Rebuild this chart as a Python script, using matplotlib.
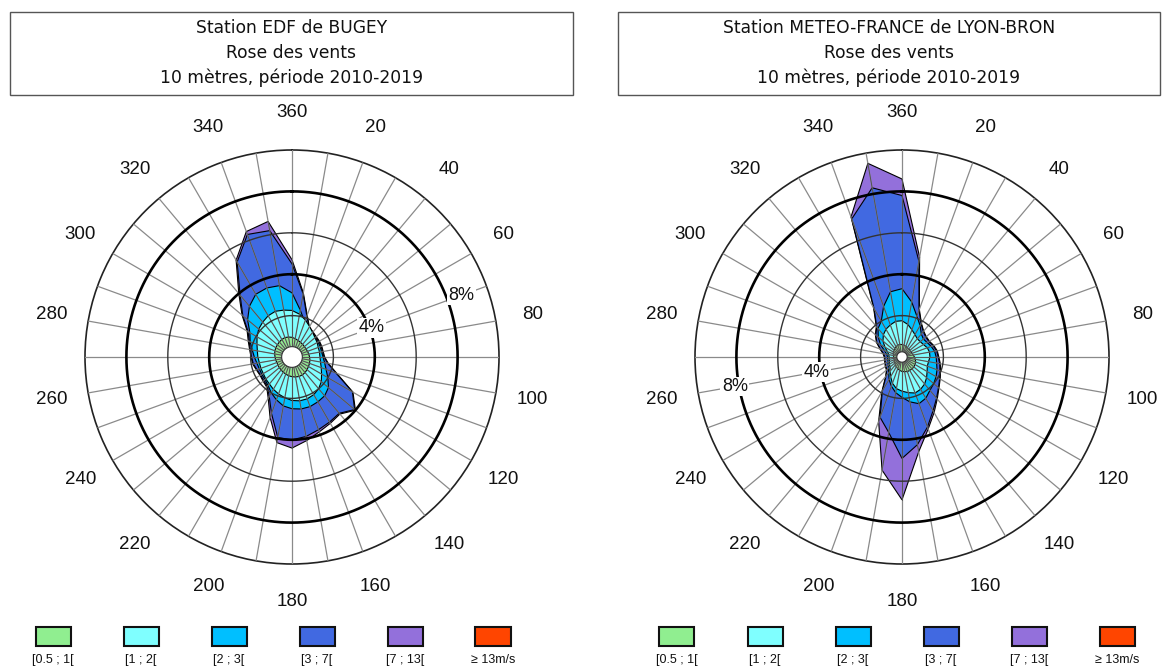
import numpy as np
import matplotlib
matplotlib.use("Agg")
import matplotlib.pyplot as plt
from matplotlib.patches import Rectangle

plt.rcParams['font.family'] = ['Liberation Sans', 'DejaVu Sans']

# directions (degrees from north, clockwise), one sector every 10 degrees
directions = np.arange(0, 360, 10)

# classes de vitesse
classes = ["[0.5 ; 1[", "[1 ; 2[", "[2 ; 3[", "[3 ; 7[", "[7 ; 13[", "\u2265 13m/s"]
couleurs = ["#90EE90", "#7FFFFF", "#00BFFF", "#4169E1", "#9370DB", "#FF4500"]

# --- Station EDF de BUGEY : frequences cumulees (%) sous chaque borne de vitesse
bugey_calme = 0.5
bugey_lt1 = [0.95, 0.9, 0.85, 0.82, 0.8, 0.78, 0.78, 0.8, 0.82, 0.85, 0.88, 0.9,
             0.92, 0.95, 0.98, 1.0, 1.0, 0.98, 0.95, 0.92, 0.88, 0.85, 0.82, 0.8,
             0.78, 0.78, 0.8, 0.82, 0.85, 0.88, 0.9, 0.92, 0.95, 0.98, 1.0, 0.98]
bugey_lt2 = [2.25, 2.1, 1.9, 1.7, 1.55, 1.45, 1.4, 1.35, 1.35, 1.35, 1.4, 1.5,
             1.65, 1.85, 2.0, 2.1, 2.15, 2.15, 2.1, 2.0, 1.9, 1.8, 1.7, 1.65,
             1.6, 1.6, 1.6, 1.65, 1.7, 1.8, 1.95, 2.1, 2.2, 2.3, 2.35, 2.3]
bugey_lt3 = [3.1, 2.3, 1.8, 1.5, 1.45, 1.45, 1.45, 1.45, 1.45, 1.5, 1.6, 1.75,
             2.0, 2.3, 2.45, 2.5, 2.55, 2.55, 2.5, 2.4, 2.2, 2.0, 1.8, 1.7,
             1.68, 1.68, 1.72, 1.82, 1.95, 2.15, 2.35, 2.8, 3.2, 3.5, 3.55, 3.5]
bugey_lt7 = [4.5, 3.1, 2.1, 1.65, 1.55, 1.5, 1.5, 1.5, 1.5, 1.55, 1.75, 2.26,
             3.37, 3.95, 3.55, 3.63, 3.74, 3.9, 4.0, 3.95, 2.9, 2.2, 1.85, 1.78,
             1.75, 1.8, 1.9, 1.95, 2.05, 2.2, 2.45, 3.1, 3.9, 5.3, 6.3, 6.2]
bugey_lt13 = [4.7, 3.15, 2.15, 1.68, 1.58, 1.53, 1.53, 1.53, 1.53, 1.58, 1.78, 2.3,
              3.4, 4.0, 3.6, 3.7, 3.85, 4.1, 4.4, 4.2, 3.1, 2.3, 1.9, 1.82,
              1.78, 1.83, 1.93, 1.98, 2.08, 2.25, 2.5, 3.15, 4.0, 5.4, 6.45, 6.65]

# --- Station METEO-FRANCE de LYON-BRON
bron_calme = 0.25
bron_lt1 = [0.6, 0.58, 0.55, 0.52, 0.5, 0.5, 0.5, 0.52, 0.55, 0.6, 0.65, 0.7,
            0.72, 0.75, 0.75, 0.75, 0.75, 0.72, 0.7, 0.65, 0.6, 0.55, 0.5, 0.45,
            0.42, 0.4, 0.4, 0.4, 0.42, 0.45, 0.48, 0.5, 0.55, 0.58, 0.6, 0.62]
bron_lt2 = [1.75, 1.6, 1.4, 1.25, 1.15, 1.15, 1.2, 1.3, 1.35, 1.35, 1.3, 1.3,
            1.4, 1.55, 1.7, 1.8, 1.85, 1.75, 1.65, 1.55, 1.35, 1.1, 0.9, 0.75,
            0.7, 0.65, 0.62, 0.62, 0.65, 0.75, 0.95, 1.2, 1.4, 1.55, 1.65, 1.75]
bron_lt3 = [3.3, 2.7, 2.1, 1.75, 1.45, 1.35, 1.4, 1.5, 1.6, 1.65, 1.7, 1.8,
            1.9, 2.0, 2.1, 2.3, 2.4, 2.2, 1.95, 1.75, 1.5, 1.25, 1.0, 0.85,
            0.78, 0.72, 0.7, 0.7, 0.75, 0.9, 1.2, 1.5, 1.8, 2.0, 2.6, 3.2]
bron_lt7 = [7.8, 4.7, 2.4, 1.85, 1.6, 1.5, 1.5, 1.6, 1.7, 1.75, 1.85, 1.95,
            2.1, 2.3, 2.6, 3.0, 3.6, 4.3, 4.9, 3.7, 3.1, 1.9, 1.2, 0.95,
            0.9, 0.85, 0.83, 0.83, 0.9, 1.1, 1.4, 1.65, 1.9, 2.7, 7.1, 8.3]
bron_lt13 = [8.6, 4.9, 2.45, 1.88, 1.63, 1.53, 1.53, 1.63, 1.73, 1.78, 1.88, 1.98,
             2.13, 2.33, 2.65, 3.1, 3.7, 4.65, 6.9, 5.55, 3.3, 1.95, 1.23, 0.98,
             0.93, 0.88, 0.86, 0.86, 0.93, 1.13, 1.43, 1.68, 1.93, 2.75, 7.2, 9.5]

stations = [
    ("Station EDF de BUGEY", bugey_calme,
     [bugey_lt1, bugey_lt2, bugey_lt3, bugey_lt7, bugey_lt13], 70, [4.1, 8.7]),
    ("Station METEO-FRANCE de LYON-BRON", bron_calme,
     [bron_lt1, bron_lt2, bron_lt3, bron_lt7, bron_lt13], 260, [4.2, 8.2]),
]

W, H = 1166, 668
fig = plt.figure(figsize=(W / 100, H / 100), dpi=100)

R_PX = 207          # rayon du cercle 10 % en pixels
centres = [(292, 357), (902, 357)]
cadres = [(10, 573), (618, 1160)]
legende_x0 = [53, 677]

theta = np.deg2rad(directions)
theta_ferme = np.append(theta, theta[0])
cercle = np.linspace(0, 2 * np.pi, 361)

for i, (nom, calme, cumuls, angle_lbl, r_lbl) in enumerate(stations):
    cx, cy = centres[i]
    ax = fig.add_axes([(cx - R_PX) / W, (H - cy - R_PX) / H, 2 * R_PX / W, 2 * R_PX / H],
                      projection='polar')
    ax.set_theta_zero_location('N')
    ax.set_theta_direction(-1)
    ax.set_ylim(0, 10)
    ax.set_xticks([])
    ax.set_yticks([])
    ax.grid(False)
    ax.spines['polar'].set_linewidth(1.2)
    ax.spines['polar'].set_color('#222222')

    # secteurs empiles, du plus grand au plus petit
    for k in range(len(cumuls) - 1, -1, -1):
        r = np.append(cumuls[k], cumuls[k][0])
        ax.fill(theta_ferme, r, facecolor=couleurs[k], edgecolor='black', lw=0.8, zorder=2)

    # rayons tous les 10 degres
    for t in theta:
        ax.plot([t, t], [0, 10], color='#8a8a8a', lw=0.9, zorder=3)
    # rayons plus sombres a l'interieur de la rose
    for t, rmax in zip(theta, cumuls[-1]):
        ax.plot([t, t], [0, rmax], color='#1a1a1a', lw=0.6, alpha=0.55, zorder=3)

    # cercles de frequence
    for rr, lw, col in [(2, 1.0, '#333333'), (4, 1.9, 'black'), (6, 1.0, '#333333'),
                        (8, 1.9, 'black')]:
        ax.plot(cercle, [rr] * len(cercle), color=col, lw=lw, zorder=4)

    # calmes
    ax.fill(cercle, [calme] * len(cercle), facecolor='white', edgecolor='#333333',
            lw=0.8, zorder=5)

    # graduations des directions
    for d in range(0, 360, 20):
        lab = "360" if d == 0 else str(d)
        ax.text(np.deg2rad(d), 11.8, lab, ha='center', va='center', fontsize=13.5,
                color='#111111', clip_on=False)

    # etiquettes des cercles
    for rr, txt in zip(r_lbl, ["4%", "8%"]):
        ax.text(np.deg2rad(angle_lbl), rr, txt, ha='center', va='center', fontsize=13,
                color='#111111', zorder=6,
                bbox=dict(facecolor='white', edgecolor='none', pad=1.0))

    # cadre du titre
    x0, x1 = cadres[i]
    fig.add_artist(Rectangle((x0 / W, 1 - 95 / H), (x1 - x0) / W, 83 / H,
                             transform=fig.transFigure, fill=False,
                             edgecolor='#555555', lw=1.0))
    xm = (x0 + x1) / 2 / W
    for y, txt in [(28, nom), (53, "Rose des vents"), (78, "10 m\u00e8tres, p\u00e9riode 2010-2019")]:
        fig.text(xm, 1 - y / H, txt, ha='center', va='center', fontsize=12.3,
                 family='DejaVu Sans', color='#111111')

    # legende
    for k in range(len(classes)):
        lx = legende_x0[i] + 88 * k
        fig.add_artist(Rectangle(((lx - 17.5) / W, 1 - 646 / H), 35 / W, 19 / H,
                                 transform=fig.transFigure, facecolor=couleurs[k],
                                 edgecolor='#111111', lw=1.5))
        fig.text(lx / W, 1 - 660 / H, classes[k], ha='center', va='center',
                 fontsize=9, color='#111111')

fig.savefig("out.png", dpi=100)
